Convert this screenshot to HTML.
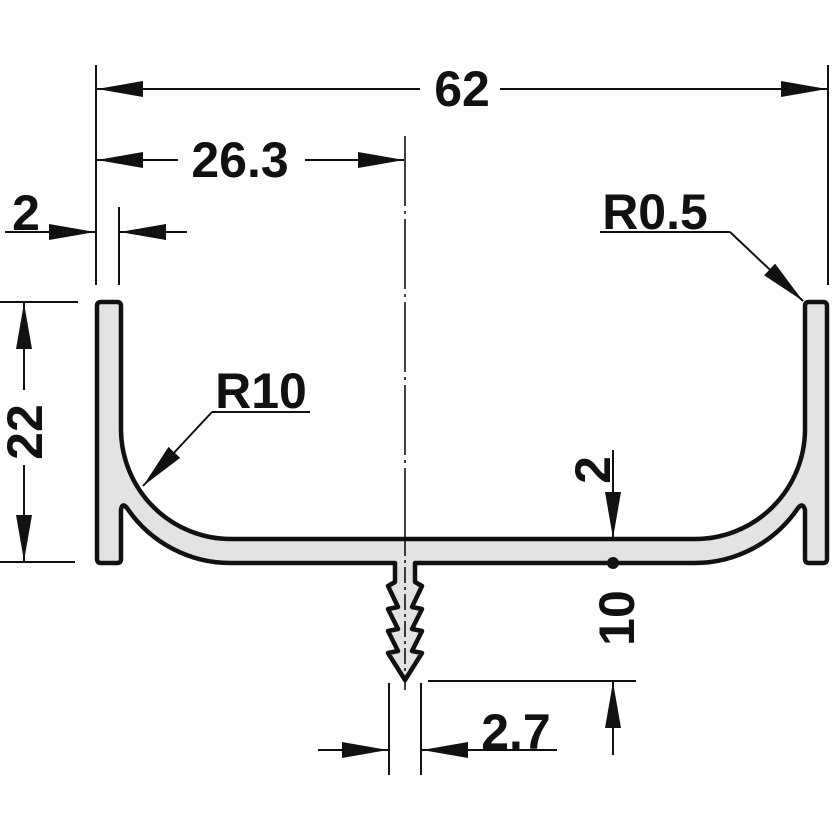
<!DOCTYPE html>
<html><head><style>html,body{margin:0;padding:0;background:#fff}svg{display:block}text{font-family:"Liberation Sans",sans-serif;font-weight:bold;fill:#111}</style></head>
<body>
<svg width="833" height="832" viewBox="0 0 833 832" xmlns="http://www.w3.org/2000/svg">
<defs>
<marker id="a" viewBox="0 0 46 16" refX="46" refY="8" markerWidth="46" markerHeight="16" markerUnits="userSpaceOnUse" orient="auto"><path d="M0,0 L46,8 L0,16 Z" fill="#111"/></marker>
</defs>
<g stroke="#111" stroke-width="2" fill="none">
<line x1="96" y1="65" x2="96" y2="285"/>
<line x1="828" y1="65" x2="828" y2="285"/>
<line x1="119" y1="207" x2="119" y2="285"/>
<line x1="0" y1="302" x2="78" y2="302"/>
<line x1="0" y1="562" x2="75" y2="562"/>
<line x1="420" y1="89" x2="97" y2="89" marker-end="url(#a)"/>
<line x1="500" y1="89" x2="827" y2="89" marker-end="url(#a)"/>
<line x1="178" y1="160" x2="97" y2="160" marker-end="url(#a)"/>
<line x1="305" y1="160" x2="404" y2="160" marker-end="url(#a)"/>
<line x1="405" y1="136" x2="405" y2="690" stroke-width="1.6" stroke-dasharray="70,5,3,5"/>
<line x1="5" y1="232" x2="95" y2="232" marker-end="url(#a)"/>
<line x1="187" y1="232" x2="120" y2="232" marker-end="url(#a)"/>
<line x1="24" y1="390" x2="24" y2="303" marker-end="url(#a)"/>
<line x1="24" y1="465" x2="24" y2="561" marker-end="url(#a)"/>
<polyline points="600,232 730,232"/>
<line x1="730" y1="232" x2="803" y2="301" marker-end="url(#a)"/>
<line x1="212" y1="412" x2="310" y2="412"/>
<line x1="212" y1="412" x2="143" y2="486" marker-end="url(#a)"/>
<line x1="613" y1="450" x2="613" y2="538" marker-end="url(#a)"/>
<line x1="428" y1="681" x2="636" y2="681"/>
<line x1="613" y1="755" x2="613" y2="682" marker-end="url(#a)"/>
<line x1="389" y1="683" x2="389" y2="775"/>
<line x1="421" y1="683" x2="421" y2="775"/>
<line x1="318" y1="750" x2="388" y2="750" marker-end="url(#a)"/>
<line x1="557" y1="750" x2="422" y2="750" marker-end="url(#a)"/>
</g>
<path d="M101,302 H117 Q121,302 121,306 V430 A110,110 0 0 0 231,539 H695 A110,110 0 0 0 805,430 V306 Q805,302 809,302 H823 Q827,302 827,306 V559 Q827,563 823,563 H809 Q805,563 805,559 V510 Q803,502 798,508 A125,125 0 0 1 693,563 H415 V582 L422,586 L412,607 L422,609 L412,629 L422,631 L412,651 L422,653 L405,680 L388,653 L398,651 L388,631 L398,629 L388,609 L398,607 L388,586 L395,582 V563 H232 A125,125 0 0 1 127,508 Q122,502 121,510 V559 Q121,563 117,563 H101 Q97,563 97,559 V306 Q97,302 101,302 Z" fill="#e3e3e3" stroke="#111" stroke-width="4.5" stroke-linejoin="round"/>
<line x1="405" y1="540" x2="405" y2="682" stroke="#111" stroke-width="1.6" stroke-dasharray="16,4,3,4"/>
<circle cx="613" cy="563" r="6" fill="#111"/>
<g font-size="50">
<text x="462" y="106" text-anchor="middle">62</text>
<text x="240" y="177" text-anchor="middle">26.3</text>
<text x="26" y="230" text-anchor="middle">2</text>
<text x="655" y="229" text-anchor="middle">R0.5</text>
<text x="261" y="408" text-anchor="middle">R10</text>
<text x="516" y="749" text-anchor="middle">2.7</text>
<text transform="translate(42,432) rotate(-90)" text-anchor="middle">22</text>
<text transform="translate(610,470) rotate(-90)" text-anchor="middle">2</text>
<text transform="translate(634,618) rotate(-90)" text-anchor="middle">10</text>
</g>
</svg>
</body></html>
